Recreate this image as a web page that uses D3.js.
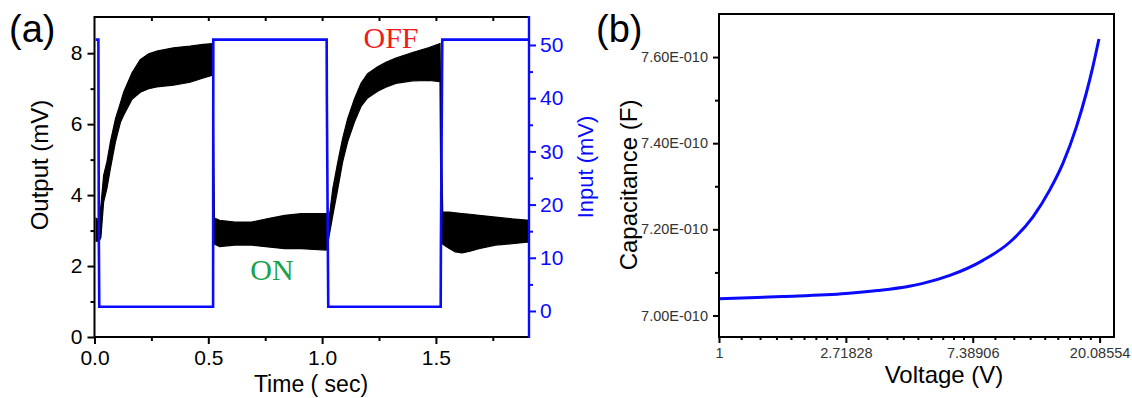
<!DOCTYPE html>
<html>
<head>
<meta charset="utf-8">
<script src="https://cdn.jsdelivr.net/npm/d3@7"></script>
<style>
  html, body { margin: 0; padding: 0; background: #fff; }
  svg { display: block; }
  text { font-family: "Liberation Sans", Arial, sans-serif; }
</style>
</head>
<body>
<svg id="chart" width="1132" height="398"></svg>
<script>
// ---------- Panel (a) data ----------
// Output (mV): oscillating band read as upper / lower envelopes
const outTime  = [0.007, 0.020, 0.028, 0.040, 0.055, 0.070, 0.092, 0.114, 0.128, 0.165, 0.201, 0.238, 0.274, 0.347, 0.420, 0.478, 0.519,
                  0.522, 0.527, 0.550, 0.617, 0.690, 0.763, 0.836, 0.909, 1.018,
                  1.028, 1.047, 1.069, 1.090, 1.112, 1.142, 1.171, 1.200, 1.244, 1.280, 1.324, 1.397, 1.470, 1.518,
                  1.522, 1.530, 1.557, 1.585, 1.615, 1.650, 1.689, 1.762, 1.834, 1.909];
const outUpper = [3.35, 3.30, 3.70, 4.55, 4.95, 5.50, 6.15, 6.60, 6.90, 7.45, 7.82, 7.98, 8.06, 8.15, 8.20, 8.25, 8.27,
                  6.50, 3.35, 3.29, 3.24, 3.24, 3.34, 3.43, 3.48, 3.48,
                  3.20, 4.18, 4.93, 5.59, 6.15, 6.71, 7.15, 7.42, 7.62, 7.74, 7.86, 8.02, 8.16, 8.27,
                  6.30, 3.52, 3.52, 3.50, 3.48, 3.46, 3.43, 3.38, 3.33, 3.29];
const outLower = [2.70, 2.70, 2.80, 3.80, 4.20, 4.75, 5.50, 6.05, 6.25, 6.70, 6.90, 7.00, 7.05, 7.10, 7.18, 7.30, 7.38,
                  3.40, 2.62, 2.55, 2.59, 2.59, 2.54, 2.49, 2.49, 2.45,
                  2.75, 3.43, 4.18, 4.93, 5.50, 6.06, 6.50, 6.74, 6.93, 7.04, 7.15, 7.22, 7.23, 7.20,
                  3.50, 2.62, 2.50, 2.40, 2.37, 2.42, 2.49, 2.59, 2.63, 2.68];
// Input (mV): square wave
const inTime = [0.005, 0.017, 0.019, 0.021, 0.521, 0.522, 1.020, 1.021, 1.027, 1.521, 1.522, 1.528, 1.909];
const inVal  = [51, 51, 14, 0.8, 0.8, 51, 51, 39, 0.8, 0.8, 13, 51, 51];
const aXTicks  = [0, 0.5, 1.0, 1.5];
const aXMinor  = [0.25, 0.75, 1.25, 1.75];
const aXTop    = [0.25, 0.5, 0.75, 1.0, 1.25, 1.5, 1.75];
const aYTicks  = [0, 2, 4, 6, 8];
const aYMinor  = [1, 3, 5, 7];
const aY2Ticks = [0, 10, 20, 30, 40, 50];
const aY2Minor = [5, 15, 25, 35, 45];

// ---------- Panel (b) data ----------
const voltage = [1, 1.65, 2.72, 3.49, 4.48, 4.95, 6.17, 8.01, 9.89, 11.88, 13.55, 15.04, 16.73, 18.08, 19.05, 19.98];
const capacitance = [7.039e-10, 7.044e-10, 7.051e-10, 7.058e-10, 7.068e-10, 7.074e-10, 7.093e-10, 7.128e-10,
                     7.170e-10, 7.229e-10, 7.291e-10, 7.353e-10, 7.438e-10, 7.516e-10, 7.578e-10, 7.642e-10];
const bXTicks = [1, Math.E, Math.E * Math.E, Math.E * Math.E * Math.E];
const bXTickLabels = ["1", "2.71828", "7.38906", "20.08554"];
const bYTicks = [7.0e-10, 7.2e-10, 7.4e-10, 7.6e-10];
const bYMinor = [7.1e-10, 7.3e-10, 7.5e-10];

const BLUE = "#0a0aff";
const svg = d3.select("#chart");

function styleAxis(g, color, fontSize) {
  g.select(".domain").remove();
  g.selectAll(".tick line").attr("stroke", color).attr("stroke-width", 2);
  g.selectAll(".tick text").attr("fill", color).style("font-size", fontSize + "px")
    .style("font-family", '"Liberation Sans", Arial, sans-serif');
}

// ================= Panel (a) =================
const xA  = d3.scaleLinear().domain([0, 1.909]).range([94.5, 529]);
const yA  = d3.scaleLinear().domain([0, 9.02]).range([337, 17]);
const yA2 = d3.scaleLinear().domain([-4.89, 55.26]).range([337, 17]);

const outData = outTime.map((t, i) => ({ t, hi: outUpper[i], lo: outLower[i] }));
svg.append("path")
  .datum(outData)
  .attr("d", d3.area().x(d => xA(d.t)).y0(d => yA(d.lo)).y1(d => yA(d.hi)))
  .attr("fill", "#000").attr("stroke", "#000").attr("stroke-width", 1.2);

const inData = inTime.map((t, i) => ({ t, v: inVal[i] }));
svg.append("path")
  .datum(inData)
  .attr("d", d3.line().x(d => xA(d.t)).y(d => yA2(d.v)))
  .attr("fill", "none").attr("stroke", BLUE).attr("stroke-width", 2.6);

// axes (a)
svg.append("g").attr("transform", "translate(0,337)")
  .call(d3.axisBottom(xA).tickValues(aXTicks).tickFormat(d3.format(".1f")).tickSize(7).tickPadding(6))
  .call(g => styleAxis(g, "#000", 21));
svg.append("g").attr("transform", "translate(0,337)")
  .call(d3.axisBottom(xA).tickValues(aXMinor).tickFormat("").tickSize(4))
  .call(g => styleAxis(g, "#000", 21));
svg.append("g").attr("transform", "translate(0,17)")
  .call(d3.axisBottom(xA).tickValues(aXTop).tickFormat("").tickSize(4))
  .call(g => styleAxis(g, "#000", 21));
svg.append("g").attr("transform", "translate(94.5,0)")
  .call(d3.axisLeft(yA).tickValues(aYTicks).tickFormat(d3.format("d")).tickSize(7).tickPadding(5))
  .call(g => styleAxis(g, "#000", 21));
svg.append("g").attr("transform", "translate(94.5,0)")
  .call(d3.axisLeft(yA).tickValues(aYMinor).tickFormat("").tickSize(4))
  .call(g => styleAxis(g, "#000", 21));
svg.append("g").attr("transform", "translate(529,0)")
  .call(d3.axisRight(yA2).tickValues(aY2Ticks).tickFormat(d3.format("d")).tickSize(7).tickPadding(4))
  .call(g => styleAxis(g, BLUE, 21));
svg.append("g").attr("transform", "translate(529,0)")
  .call(d3.axisRight(yA2).tickValues(aY2Minor).tickFormat("").tickSize(4))
  .call(g => styleAxis(g, BLUE, 21));

// frame (a)
svg.append("line").attr("x1", 94.5).attr("x2", 529).attr("y1", 17).attr("y2", 17).attr("stroke", "#000").attr("stroke-width", 2);
svg.append("line").attr("x1", 94.5).attr("x2", 529).attr("y1", 337).attr("y2", 337).attr("stroke", "#000").attr("stroke-width", 2);
svg.append("line").attr("x1", 94.5).attr("x2", 94.5).attr("y1", 16).attr("y2", 338).attr("stroke", "#000").attr("stroke-width", 2);
svg.append("line").attr("x1", 529).attr("x2", 529).attr("y1", 16).attr("y2", 338).attr("stroke", BLUE).attr("stroke-width", 2.4);

// labels (a)
svg.append("text").attr("x", 311).attr("y", 392).attr("text-anchor", "middle")
  .style("font-size", "23px").text("Time ( sec)");
svg.append("text").attr("transform", "translate(48,165) rotate(-90)").attr("text-anchor", "middle")
  .style("font-size", "24px").text("Output (mV)");
svg.append("text").attr("transform", "translate(593,167) rotate(-90)").attr("text-anchor", "middle")
  .style("font-size", "22px").attr("fill", BLUE).text("Input (mV)");
svg.append("text").attr("x", 9).attr("y", 42).style("font-size", "38px").text("(a)");
svg.append("text").attr("x", 391).attr("y", 48).attr("text-anchor", "middle")
  .style("font-family", '"Liberation Serif", "Times New Roman", serif').style("font-size", "30px")
  .attr("fill", "#ee1c1c").text("OFF");
svg.append("text").attr("x", 272).attr("y", 280).attr("text-anchor", "middle")
  .style("font-family", '"Liberation Serif", "Times New Roman", serif').style("font-size", "30px")
  .attr("fill", "#1aa24c").text("ON");

// ================= Panel (b) =================
const xB = d3.scaleLog().base(Math.E).domain([1, 22.5]).range([719, 1114]);
const yB = d3.scaleLinear().domain([6.95e-10, 7.70e-10]).range([337, 14]);

const bXMinor = [];
for (let k = 0; k < 3; k++) {
  const a = Math.pow(Math.E, k), b = Math.pow(Math.E, k + 1);
  for (let j = 1; j <= 8; j++) bXMinor.push(a + j * (b - a) / 9);
}

const capData = voltage.map((v, i) => ({ v, c: capacitance[i] }));
svg.append("path")
  .datum(capData)
  .attr("d", d3.line().x(d => xB(d.v)).y(d => yB(d.c)).curve(d3.curveMonotoneX))
  .attr("fill", "none").attr("stroke", BLUE).attr("stroke-width", 3);

svg.append("g").attr("transform", "translate(0,337)")
  .call(d3.axisBottom(xB).tickValues(bXTicks).tickFormat((d, i) => bXTickLabels[i]).tickSize(6).tickPadding(5))
  .call(g => styleAxis(g, "#000", 14.5))
  .call(g => g.selectAll(".tick text").attr("fill", "#333"));
svg.append("g").attr("transform", "translate(0,337)")
  .call(d3.axisBottom(xB).tickValues(bXMinor).tickFormat("").tickSize(3))
  .call(g => styleAxis(g, "#000", 14.5));
svg.append("g").attr("transform", "translate(719,0)")
  .call(d3.axisLeft(yB).tickValues(bYTicks).tickFormat(d => (d / 1e-10).toFixed(2) + "E-010").tickSize(6).tickPadding(5))
  .call(g => styleAxis(g, "#000", 14.5))
  .call(g => g.selectAll(".tick text").attr("fill", "#333"));
svg.append("g").attr("transform", "translate(719,0)")
  .call(d3.axisLeft(yB).tickValues(bYMinor).tickFormat("").tickSize(4))
  .call(g => styleAxis(g, "#000", 14.5));

svg.append("rect").attr("x", 719).attr("y", 14).attr("width", 395).attr("height", 323)
  .attr("fill", "none").attr("stroke", "#000").attr("stroke-width", 2);

svg.append("text").attr("x", 944).attr("y", 383).attr("text-anchor", "middle")
  .style("font-size", "24px").text("Voltage (V)");
svg.append("text").attr("transform", "translate(637,185) rotate(-90)").attr("text-anchor", "middle")
  .style("font-size", "24px").text("Capacitance (F)");
svg.append("text").attr("x", 596).attr("y", 42).style("font-size", "38px").text("(b)");
</script>
</body>
</html>
